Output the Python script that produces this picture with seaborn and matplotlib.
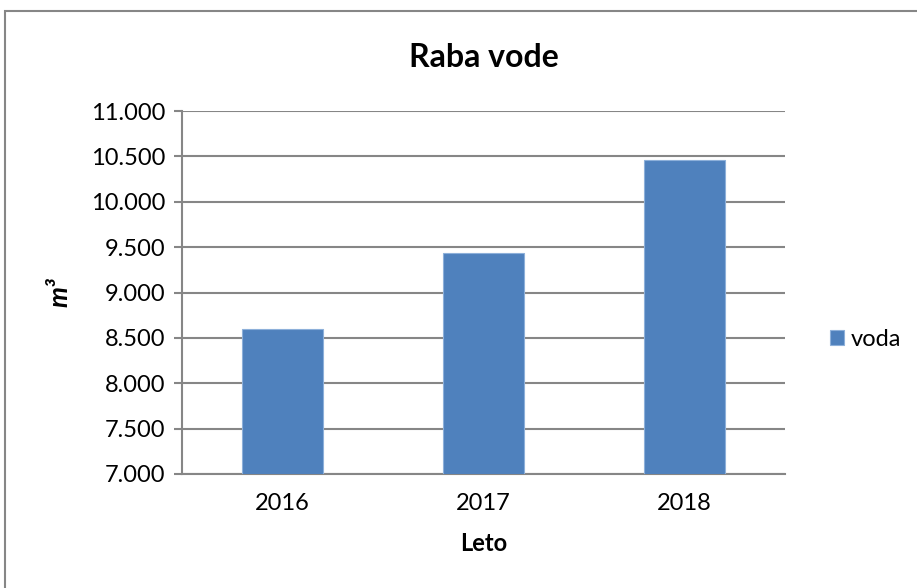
import pandas as pd
import matplotlib.pyplot as plt
import seaborn as sns
from matplotlib.ticker import FuncFormatter, MultipleLocator
from matplotlib.patches import Rectangle

YEARS = ['2016', '2017', '2018']
VODA = [8600, 9440, 10460]
SERIES = 'voda'
BLUE = '#4F81BD'
GRAY = '#868686'


def main():
    df = pd.DataFrame({'Leto': YEARS, 'value': VODA, 'serija': SERIES})

    sns.set_style('white')
    plt.rcParams['font.family'] = ['Lato', 'DejaVu Sans']

    fig = plt.figure(figsize=(9.17, 5.88), dpi=100)
    ax = fig.add_axes([0.1985, 0.1939, 0.6575, 0.6173])

    sns.barplot(data=df, x='Leto', y='value', hue='serija', palette=[BLUE],
                saturation=1, width=0.4, edgecolor='#8DB0DA', linewidth=0.8,
                ax=ax, zorder=3)

    ax.set_ylim(7000, 11000)
    ax.yaxis.set_major_locator(MultipleLocator(500))
    ax.yaxis.set_major_formatter(FuncFormatter(lambda v, p: f'{v:,.0f}'.replace(',', '.')))
    ax.grid(axis='y', color=GRAY, linewidth=1.5, zorder=0)
    ax.set_axisbelow(True)

    for s in ['top', 'right']:
        ax.spines[s].set_visible(False)
    for s in ['left', 'bottom']:
        ax.spines[s].set_color(GRAY)
        ax.spines[s].set_linewidth(1.5)

    ax.tick_params(axis='y', which='major', length=6, width=1.5, color=GRAY,
                   labelsize=17, pad=6, left=True, labelcolor='black')
    ax.tick_params(axis='x', length=0, labelsize=17, pad=14, labelcolor='black')

    ax.set_title('Raba vode', fontsize=23, fontweight='bold', pad=32, color='black')
    ax.set_xlabel('Leto', fontsize=17, fontweight='bold', labelpad=13, color='black')
    ax.set_ylabel('m³', fontsize=19, fontweight='bold', fontstyle='italic',
                  labelpad=14, color='black')

    handles, labels = ax.get_legend_handles_labels()
    leg = ax.legend(handles, labels, loc='center left', bbox_to_anchor=(1.04, 0.37),
                    frameon=False, fontsize=17, handlelength=0.6, handleheight=0.6,
                    handletextpad=0.25)
    for t in leg.get_texts():
        t.set_color('black')

    # chart frame (cut off on the right and at the bottom)
    fig.patches.append(Rectangle((5 / 917, -0.05), 1.2, 1 - 11 / 588 + 0.05,
                                 transform=fig.transFigure, fill=False,
                                 edgecolor=GRAY, linewidth=1.5))

    fig.savefig('out.png', dpi=100)
    plt.close(fig)


if __name__ == '__main__':
    main()
